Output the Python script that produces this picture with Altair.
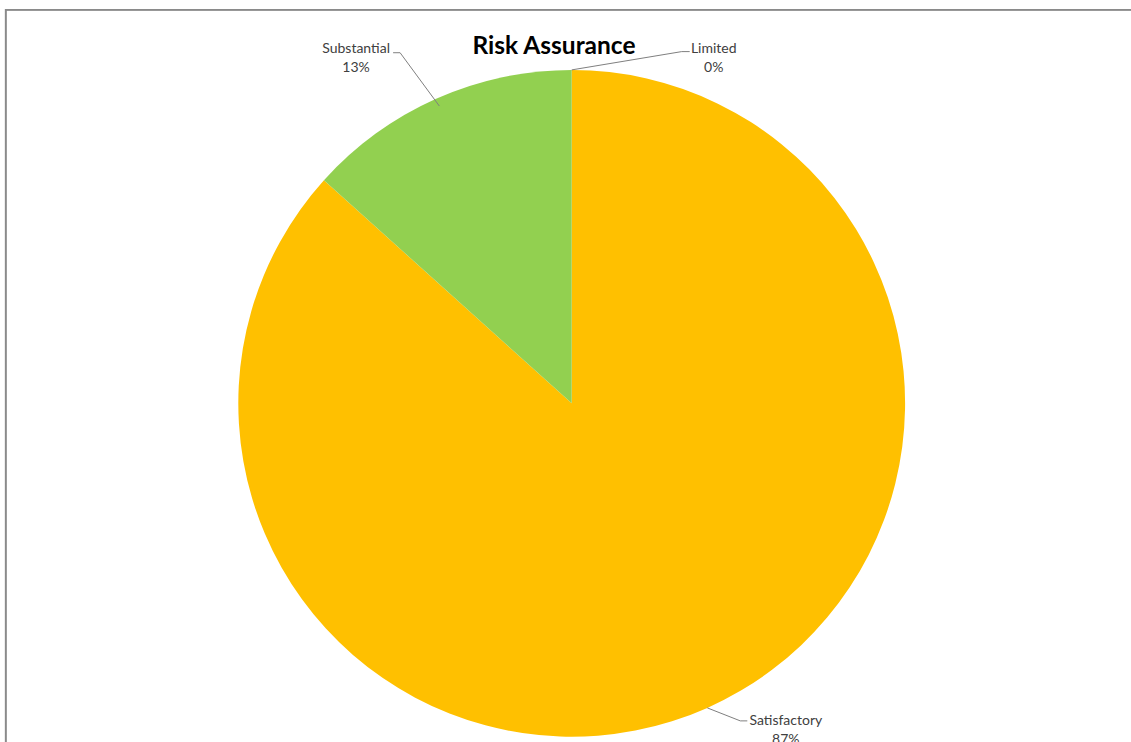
import altair as alt
import pandas as pd

# ---- data ----
categories = ["Satisfactory", "Substantial", "Limited"]
counts = [13, 2, 0]
percent_labels = ["87%", "13%", "0%"]
slice_order = [1, 2, 3]
colors = ["#FFC000", "#92D050", "#FF0000"]

# ---- label layout (styling: offsets from each slice's edge point) ----
leader_dx = [33, -36, 110]
leader_dy = [13, -46, -18.3]
leader_hook = [7, -7, 8]
text_dx = [38.5, -37, 24]
text_dy = [4, 0.5, 1]
leader_inset = [0, 8, 0]

W, H = 1131, 742
CX, CY, R = 571.7, 403.3, 333.4
FONT = "Lato"
TEXT_COLOR = "#404040"

df = pd.DataFrame({
    "category": categories,
    "value": counts,
    "pct": percent_labels,
    "order": slice_order,
    "ldx": leader_dx,
    "ldy": leader_dy,
    "hook": leader_hook,
    "tdx": text_dx,
    "tdy": text_dy,
    "inset": leader_inset,
})

base = alt.Chart(df)

pie = base.mark_arc(radius=R, stroke=None).encode(
    theta=alt.Theta("value:Q", stack=True),
    color=alt.Color("category:N", scale=alt.Scale(domain=categories, range=colors), legend=None),
    order=alt.Order("order:Q"),
    x=alt.value(CX),
    y=alt.value(CY),
)

geo = base.transform_joinaggregate(
    total="sum(value)"
).transform_window(
    cum="sum(value)", sort=[alt.SortField("order")], frame=[None, 0]
).transform_calculate(
    mid="2*PI*(datum.cum - datum.value/2)/datum.total"
).transform_calculate(
    ex=f"{CX} + ({R} - datum.inset)*sin(datum.mid)",
    ey=f"{CY} - ({R} - datum.inset)*cos(datum.mid)",
    ex0=f"{CX} + {R}*sin(datum.mid)",
    ey0=f"{CY} - {R}*cos(datum.mid)",
).transform_calculate(
    bx="datum.ex0 + datum.ldx",
    by="datum.ey0 + datum.ldy",
).transform_calculate(
    hx="datum.bx + datum.hook",
    tx="datum.bx + datum.hook + datum.tdx",
    ty="datum.by + datum.tdy",
    ty2="datum.by + datum.tdy + 19",
)

leader1 = geo.mark_rule(color="#7f7f7f", strokeWidth=1).encode(
    x=alt.X("ex:Q", scale=None, axis=None),
    y=alt.Y("ey:Q", scale=None, axis=None),
    x2="bx:Q",
    y2="by:Q",
)
leader2 = geo.mark_rule(color="#7f7f7f", strokeWidth=1).encode(
    x=alt.X("bx:Q", scale=None, axis=None),
    y=alt.Y("by:Q", scale=None, axis=None),
    x2="hx:Q",
    y2="by:Q",
)
names = geo.mark_text(font=FONT, fontSize=14, color=TEXT_COLOR, align="center", baseline="alphabetic").encode(
    x=alt.X("tx:Q", scale=None, axis=None),
    y=alt.Y("ty:Q", scale=None, axis=None),
    text="category:N",
)
pcts = geo.mark_text(font=FONT, fontSize=14, color=TEXT_COLOR, align="center", baseline="alphabetic").encode(
    x=alt.X("tx:Q", scale=None, axis=None),
    y=alt.Y("ty2:Q", scale=None, axis=None),
    text="pct:N",
)

title = alt.Chart(pd.DataFrame({"t": ["Risk Assurance"]})).mark_text(
    font=FONT, fontSize=24.5, fontWeight="bold", color="#000000", align="center", baseline="alphabetic"
).encode(x=alt.value(554), y=alt.value(54), text="t:N")

border_top = base.mark_rule(color="#8a8a8a", strokeWidth=1.5).encode(
    x=alt.value(5), x2=alt.value(W), y=alt.value(9.7)
)
border_left = base.mark_rule(color="#8a8a8a", strokeWidth=1.5).encode(
    x=alt.value(5.7), y=alt.value(9), y2=alt.value(H)
)

chart = alt.layer(
    border_top, border_left, pie, leader1, leader2, names, pcts, title
).properties(
    width=W, height=H, padding=0,
    autosize=alt.AutoSizeParams(type="none"),
    background="white",
).configure_view(stroke=None)

chart.save("out.html", embed_options={"renderer": "svg", "actions": False})
